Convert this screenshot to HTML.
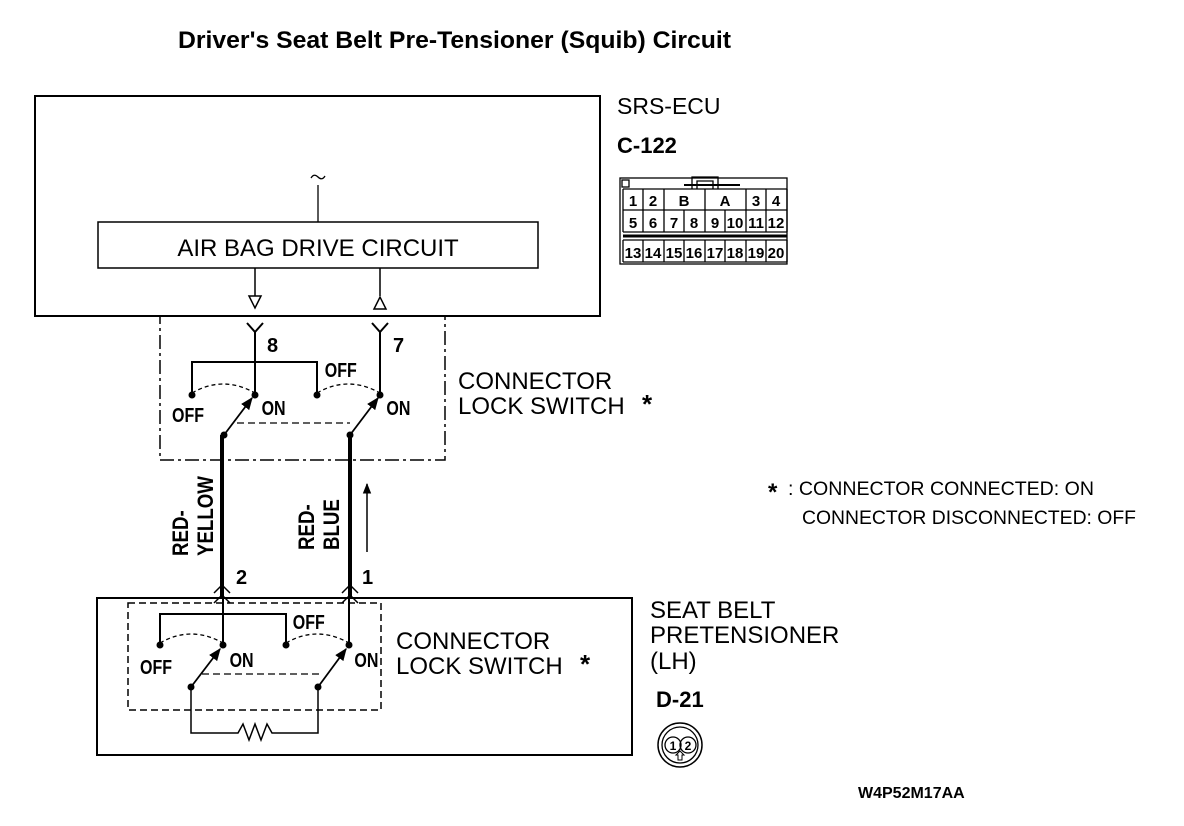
<!DOCTYPE html>
<html><head><style>body{margin:0;background:#fff}svg{display:block}</style></head><body>
<svg width="1184" height="826" viewBox="0 0 1184 826" xmlns="http://www.w3.org/2000/svg" font-family="Liberation Sans, sans-serif">
<defs>
<marker id="ah" viewBox="0 0 10 10" refX="9" refY="5" markerWidth="7" markerHeight="7" orient="auto"><path d="M0,1 L10,5 L0,9 z" fill="#000"/></marker>
</defs>
<g fill="none" stroke="#000">
<text x="178" y="48" font-size="24" font-weight="bold" fill="#000" stroke="none" textLength="553" lengthAdjust="spacingAndGlyphs">Driver's Seat Belt Pre-Tensioner (Squib) Circuit</text>
<rect x="35" y="96" width="565" height="220" stroke-width="2"/>
<rect x="98" y="222" width="440" height="46" stroke-width="1.5"/>
<text x="318" y="256" font-size="24" text-anchor="middle" fill="#000" stroke="none">AIR BAG DRIVE CIRCUIT</text>
<path d="M311,178 q3,-5 7,-1 q4,4 7,-1" stroke-width="1.3"/>
<line x1="318" y1="185" x2="318" y2="222" stroke-width="1.3"/>
<line x1="255" y1="268" x2="255" y2="296" stroke-width="1.5"/>
<path d="M249,296 L261,296 L255,308 z" stroke-width="1.5"/>
<line x1="380" y1="268" x2="380" y2="296" stroke-width="1.5"/>
<path d="M374,309 L386,309 L380,297 z" stroke-width="1.5"/>
<rect x="160" y="316" width="285" height="144" stroke-width="1.5" stroke-dasharray="14,4,3,4"/>
<path d="M247,323 L255,332 L263,323 M255,332 L255,395" stroke-width="2"/>
<path d="M372,323 L380,332 L388,323 M380,332 L380,395" stroke-width="2"/>
<path d="M192,395 L192,362 L317,362 L317,395" stroke-width="2"/>
<path d="M192,393 Q223,375 255,393" stroke-width="1.3" stroke-dasharray="4,3"/>
<path d="M317,393 Q348,375 380,393" stroke-width="1.3" stroke-dasharray="4,3"/>
<line x1="224" y1="435" x2="252" y2="398" stroke-width="1.8" marker-end="url(#ah)"/>
<line x1="350" y1="435" x2="378" y2="398" stroke-width="1.8" marker-end="url(#ah)"/>
<line x1="237" y1="423" x2="350" y2="423" stroke-width="1.2" stroke-dasharray="7,4"/>
<g fill="#000" stroke="none">
<circle cx="192" cy="395" r="3.5"/><circle cx="255" cy="395" r="3.5"/><circle cx="317" cy="395" r="3.5"/><circle cx="380" cy="395" r="3.5"/><circle cx="224" cy="435" r="3.5"/><circle cx="350" cy="435" r="3.5"/>
<g font-size="20" font-weight="bold" transform="scale(0.8,1)">
<text x="215" y="422">OFF</text><text x="327" y="415">ON</text><text x="406" y="377">OFF</text><text x="483" y="415">ON</text>
</g>
<text x="267" y="352" font-size="20" font-weight="bold">8</text>
<text x="393" y="352" font-size="20" font-weight="bold">7</text>
</g>
<line x1="222" y1="435" x2="222" y2="598" stroke-width="4"/>
<line x1="350" y1="435" x2="350" y2="598" stroke-width="4"/>
<path d="M214,593 L222,585 L230,593 M214,603 L222,595 L230,603" stroke-width="1.5"/>
<path d="M342,593 L350,585 L358,593 M342,603 L350,595 L358,603" stroke-width="1.5"/>
<line x1="367" y1="552" x2="367" y2="484" stroke-width="1.5" marker-end="url(#ah)"/>
<g fill="#000" stroke="none" font-weight="bold" font-size="22">
<text x="236" y="584" font-size="20">2</text><text x="362" y="584" font-size="20">1</text>
<text transform="translate(188,556) rotate(-90) scale(0.85,1)">RED-</text>
<text transform="translate(213,556) rotate(-90) scale(0.85,1)">YELLOW</text>
<text transform="translate(314,550) rotate(-90) scale(0.85,1)">RED-</text>
<text transform="translate(339,550) rotate(-90) scale(0.85,1)">BLUE</text>
</g>
<rect x="97" y="598" width="535" height="157" stroke-width="2"/>
<rect x="128" y="603" width="253" height="107" stroke-width="1.5" stroke-dasharray="7,4"/>
<line x1="223" y1="598" x2="223" y2="645" stroke-width="2"/>
<line x1="349" y1="598" x2="349" y2="645" stroke-width="2"/>
<path d="M160,645 L160,614 L286,614 L286,645" stroke-width="2"/>
<path d="M160,643 Q191,625 223,643" stroke-width="1.3" stroke-dasharray="4,3"/>
<path d="M286,643 Q317,625 349,643" stroke-width="1.3" stroke-dasharray="4,3"/>
<line x1="191" y1="687" x2="220" y2="649" stroke-width="1.8" marker-end="url(#ah)"/>
<line x1="318" y1="687" x2="346" y2="649" stroke-width="1.8" marker-end="url(#ah)"/>
<line x1="202" y1="674" x2="323" y2="674" stroke-width="1.2" stroke-dasharray="7,4"/>
<path d="M191,687 L191,733 L238,733 L243,724 L249,740 L255,724 L261,740 L267,724 L272,733 L318,733 L318,687" stroke-width="1.5"/>
<g fill="#000" stroke="none">
<circle cx="160" cy="645" r="3.5"/><circle cx="223" cy="645" r="3.5"/><circle cx="286" cy="645" r="3.5"/><circle cx="349" cy="645" r="3.5"/><circle cx="191" cy="687" r="3.5"/><circle cx="318" cy="687" r="3.5"/>
<g font-size="20" font-weight="bold" transform="scale(0.8,1)">
<text x="175" y="674">OFF</text><text x="287" y="667">ON</text><text x="366" y="629">OFF</text><text x="443" y="667">ON</text>
</g>
</g>
<g fill="#000" stroke="none" font-size="24">
<text x="458" y="389">CONNECTOR</text><text x="458" y="414">LOCK SWITCH</text><text x="642" y="413" font-size="26" font-weight="bold">*</text>
<text x="396" y="649">CONNECTOR</text><text x="396" y="674">LOCK SWITCH</text><text x="580" y="673" font-size="26" font-weight="bold">*</text>
<text x="650" y="618">SEAT BELT</text><text x="650" y="643">PRETENSIONER</text><text x="650" y="669">(LH)</text>
<text x="617" y="114" font-size="23">SRS-ECU</text>
<text x="617" y="153" font-size="22" font-weight="bold">C-122</text>
<text x="656" y="707" font-size="22" font-weight="bold">D-21</text>
<text x="768" y="500" font-size="24" font-weight="bold">*</text>
<text x="788" y="495" font-size="19.5" textLength="306" lengthAdjust="spacingAndGlyphs">: CONNECTOR CONNECTED: ON</text>
<text x="802" y="524" font-size="19.5" textLength="334" lengthAdjust="spacingAndGlyphs">CONNECTOR DISCONNECTED: OFF</text>
<text x="858" y="798" font-size="16" font-weight="bold">W4P52M17AA</text>
</g>
<g stroke-width="1.3">
<rect x="620" y="178" width="167" height="86"/>
<rect x="622" y="180" width="7" height="7"/>
<path d="M692,189 L692,177 L718,177 L718,189 M697,189 L697,181 L713,181 L713,189"/>
<line x1="623" y1="189" x2="787" y2="189"/>
<line x1="623" y1="210" x2="787" y2="210"/>
<line x1="623" y1="232" x2="787" y2="232"/>
<line x1="623" y1="240" x2="787" y2="240"/>
<line x1="623" y1="262" x2="787" y2="262"/>
<line x1="623" y1="236" x2="787" y2="236" stroke-width="3"/>
<line x1="684" y1="185" x2="740" y2="185" stroke-width="2"/>
<path d="M623,189V210 M643,189V210 M664,189V210 M705,189V210 M746,189V210 M766,189V210 M787,189V210"/>
<path d="M623,210V232 M643,210V232 M664,210V232 M684,210V232 M705,210V232 M725,210V232 M746,210V232 M766,210V232 M787,210V232"/>
<path d="M623,240V262 M643,240V262 M664,240V262 M684,240V262 M705,240V262 M725,240V262 M746,240V262 M766,240V262 M787,240V262"/>
</g>
<g fill="#000" stroke="none" font-size="15" font-weight="bold" text-anchor="middle">
<text x="633" y="206">1</text><text x="653" y="206">2</text><text x="684" y="206">B</text><text x="725" y="206">A</text><text x="756" y="206">3</text><text x="776" y="206">4</text>
<text x="633" y="228">5</text><text x="653" y="228">6</text><text x="674" y="228">7</text><text x="694" y="228">8</text><text x="715" y="228">9</text><text x="735" y="228">10</text><text x="756" y="228">11</text><text x="776" y="228">12</text>
<text x="633" y="258">13</text><text x="653" y="258">14</text><text x="674" y="258">15</text><text x="694" y="258">16</text><text x="715" y="258">17</text><text x="735" y="258">18</text><text x="756" y="258">19</text><text x="776" y="258">20</text>
</g>
<circle cx="680" cy="745" r="22" stroke-width="1.5"/>
<circle cx="680" cy="745" r="18" stroke-width="1.3"/>
<circle cx="673" cy="745" r="8" stroke-width="1.3"/>
<circle cx="688" cy="745" r="8" stroke-width="1.3"/>
<path d="M676,755 L680,751 L684,755 L682,755 L682,760 L678,760 L678,755 z" stroke-width="1"/>
<g fill="#000" stroke="none" font-size="12" font-weight="bold" text-anchor="middle"><text x="673" y="750">1</text><text x="688" y="750">2</text></g>
</g>
</svg>
</body></html>
